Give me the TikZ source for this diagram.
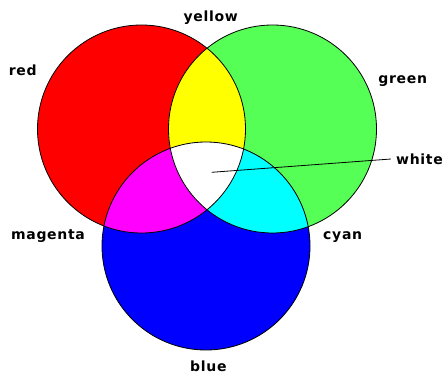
\documentclass[tikz,border=0pt]{standalone}
\usepackage{fontspec}
\setmainfont{DejaVu Sans}[BoldFont={DejaVu Sans Bold}]
\newfontfamily\lblfont{DejaVu Sans Bold}[LetterSpace=5]
\definecolor{cred}{HTML}{FF0000}
\definecolor{cgreen}{HTML}{55FF55}
\definecolor{cblue}{HTML}{0000FF}
\definecolor{cyellow}{HTML}{FFFF00}
\definecolor{cmagenta}{HTML}{FF00FF}
\definecolor{ccyan}{HTML}{00FFFF}
\tikzset{
  lbl/.style={font=\lblfont\fontsize{14}{16}\selectfont, anchor=base, inner sep=0pt},
  ring/.style={draw=black, line width=0.8pt},
  leader/.style={draw=black, line width=0.8pt}
}
\begin{document}
\begin{tikzpicture}[x=1pt,y=1pt]
\useasboundingbox (0,0) rectangle (443,375);
\fill[white] (0,0) rectangle (443,375);
\def\rr{104}
\coordinate (R) at (141.5,246);
\coordinate (G) at (272.5,246);
\coordinate (B) at (206,129);
% base fills
\fill[cred] (R) circle (\rr);
\fill[cgreen] (G) circle (\rr);
\fill[cblue] (B) circle (\rr);
% pairwise overlaps
\begin{scope}
  \clip (R) circle (\rr);
  \fill[cyellow] (G) circle (\rr);
  \fill[cmagenta] (B) circle (\rr);
\end{scope}
\begin{scope}
  \clip (G) circle (\rr);
  \fill[ccyan] (B) circle (\rr);
\end{scope}
\begin{scope}
  \clip (R) circle (\rr);
  \clip (G) circle (\rr);
  \fill[white] (B) circle (\rr);
\end{scope}
% outlines
\draw[ring] (R) circle (\rr);
\draw[ring] (G) circle (\rr);
\draw[ring] (B) circle (\rr);
% labels
\node[lbl] (yellow) at (210.7,353.5) {yellow};
\node[lbl] (red) at (22.7,299) {red};
\node[lbl] (green) at (402.7,291) {green};
\node[lbl] (white) at (419.5,211) {white};
\node[lbl] (magenta) at (48,136) {magenta};
\node[lbl] (cyan) at (342.7,136) {cyan};
\node[lbl] (blue) at (208.3,3.5) {blue};
\coordinate (wpt) at (211.7,202.7);
\draw[leader] (wpt) -- ([xshift=-5pt,yshift=5pt]white.base west);
\end{tikzpicture}
\end{document}
